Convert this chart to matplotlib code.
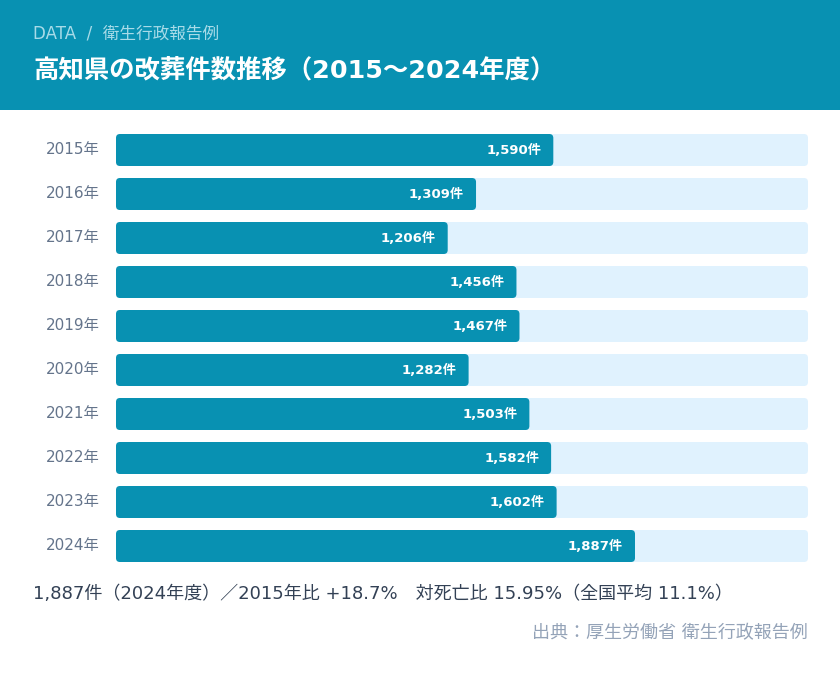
import matplotlib
matplotlib.use("Agg")
import matplotlib.pyplot as plt
from matplotlib.patches import Rectangle, FancyBboxPatch

# Latin glyphs from DejaVu (wide, Verdana-like), CJK falls through to Noto
plt.rcParams['font.family'] = ['DejaVu Sans', 'Noto Sans CJK JP']

# data
years = ['2015年', '2016年', '2017年', '2018年', '2019年',
         '2020年', '2021年', '2022年', '2023年', '2024年']
counts = [1590, 1309, 1206, 1456, 1467, 1282, 1503, 1582, 1602, 1887]

TEAL = '#0891b2'
TRACK = '#e0f2fe'

W, H = 840, 676
fig = plt.figure(figsize=(W / 100, H / 100), dpi=100)
fig.patch.set_facecolor('white')

# header band
fig.patches.append(Rectangle((0, 1 - 110 / H), 1, 110 / H, transform=fig.transFigure,
                             facecolor=TEAL, edgecolor='none', zorder=0))
fig.text(33 / W, 1 - 33 / H, 'DATA  /  衛生行政報告例', color='#a8dbe8',
         fontsize=12, va='center', ha='left')
fig.text(33 / W, 1 - 70 / H, '高知県の改葬件数推移（2015〜2024年度）', color='white',
         fontsize=18.3, fontweight='bold', va='center', ha='left')

# bar area
ax = fig.add_axes([116 / W, (H - 568) / H, 692 / W, 440 / H])
xmax = max(counts) / 0.75
ax.set_xlim(0, xmax)
ax.set_ylim(len(years) - 0.5, -0.5)
ax.axis('off')

pos = range(len(years))
bh = 32 / 44
tracks = ax.barh(pos, [xmax] * len(years), height=bh)
bars = ax.barh(pos, counts, height=bh)

xu = xmax / 692.0
yu = 1 / 44.0
r = 4 * xu
for group, col, z in ((tracks, TRACK, 1), (bars, TEAL, 2)):
    for b in group:
        x0, y0 = b.get_x(), b.get_y()
        fb = FancyBboxPatch((x0, y0), b.get_width(), b.get_height(),
                            boxstyle='round,pad=0,rounding_size=%f' % r,
                            mutation_aspect=yu / xu,
                            facecolor=col, edgecolor='none', zorder=z)
        ax.add_patch(fb)
        b.remove()

for i, (y, c) in enumerate(zip(years, counts)):
    ax.text(c - 12 * xu, i, '{:,}件'.format(c), color='white', fontsize=9.5,
            fontweight='bold', ha='right', va='center', zorder=3)
    ax.text(-16 * xu, i, y, color='#64748b', fontsize=11, ha='right', va='center',
            clip_on=False)

fig.text(33 / W, 1 - 594 / H,
         '1,887件（2024年度）／2015年比 +18.7%　対死亡比 15.95%（全国平均 11.1%）',
         color='#334155', fontsize=13, ha='left', va='center')
fig.text(808 / W, 1 - 633 / H, '出典：厚生労働省 衛生行政報告例', color='#94a3b8',
         fontsize=13, ha='right', va='center')

fig.savefig('out.png', dpi=100)
